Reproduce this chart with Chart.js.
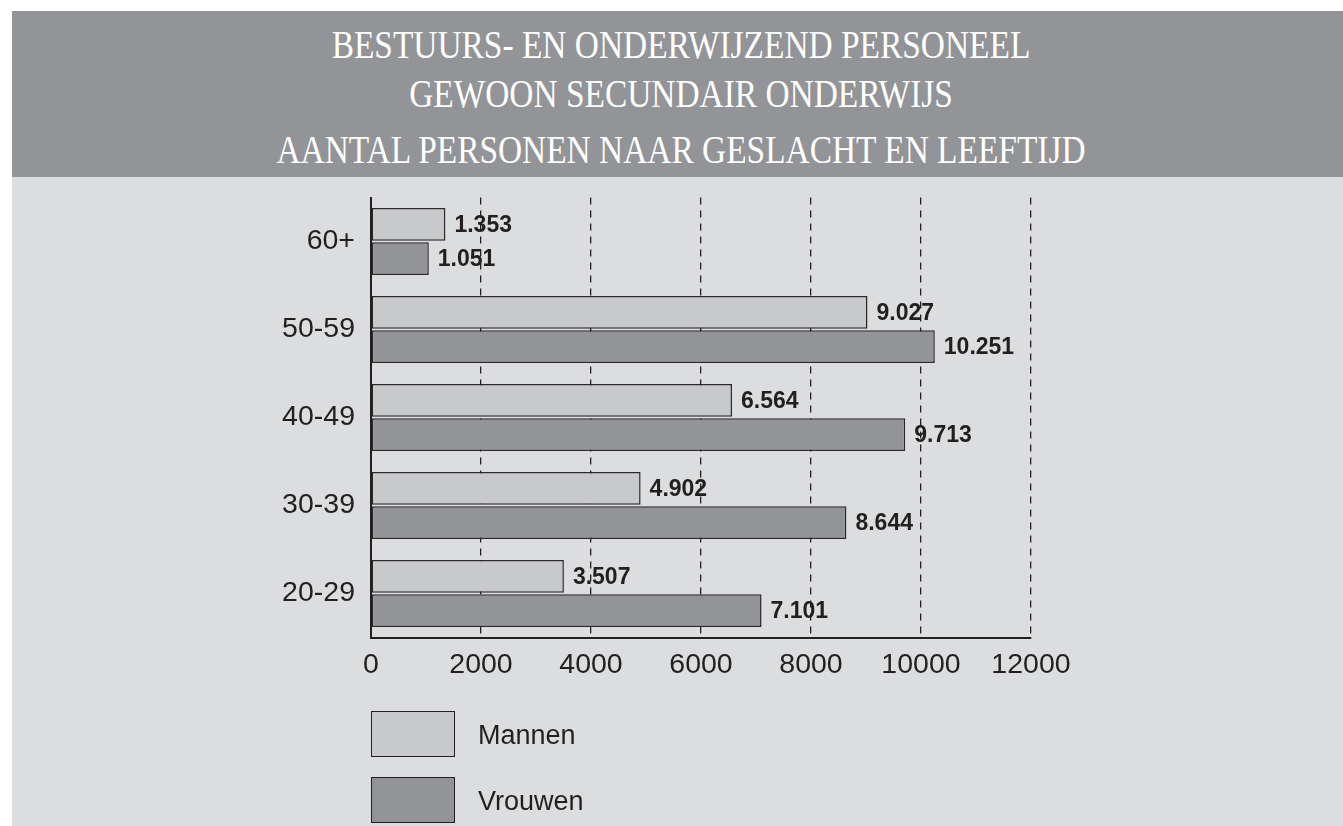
<!DOCTYPE html>
<html lang="nl">
  <head>
    <meta charset="UTF-8" />
    <title>Bestuurs- en onderwijzend personeel</title>
    <script src="https://cdn.jsdelivr.net/npm/chart.js"></script>
    <style>
      html, body { margin: 0; padding: 0; background: #ffffff; overflow: hidden; }
      #page { position: absolute; left: 12px; top: 11px; width: 1331px; height: 815px; background: #dcdddf; }
      #header { position: absolute; left: 0; top: 0; width: 1331px; height: 166px; background: #929497; }
      .tline {
        position: absolute; left: -12px; width: 1362px; text-align: center;
        font-family: "Liberation Serif", "DejaVu Serif", serif; font-size: 40px; line-height: 40px;
        color: #ffffff; transform: scaleX(0.835); transform-origin: 50% 50%; white-space: nowrap;
      }
      #chartBox { position: absolute; left: 0; top: 166px; width: 1331px; height: 649px; }
      #legend { position: absolute; left: 359px; top: 700px; font-family: "Liberation Sans", Arial, sans-serif; }
      .leg { position: absolute; left: 0; height: 46px; width: 300px; }
      .leg .box { position: absolute; left: 0; top: 0; width: 84px; height: 46px; box-sizing: border-box; border: 1.5px solid #231f20; }
      .leg .txt { position: absolute; left: 107px; top: 7px; font-size: 27px; line-height: 34px; color: #231f20; }
    </style>
  </head>
  <body>
    <div id="page">
      <div id="header">
        <div class="tline" style="top: 14px">BESTUURS- EN ONDERWIJZEND PERSONEEL</div>
        <div class="tline" style="top: 63px">GEWOON SECUNDAIR ONDERWIJS</div>
        <div class="tline" style="top: 119px">AANTAL PERSONEN NAAR GESLACHT EN LEEFTIJD</div>
      </div>
      <div id="chartBox"><canvas id="myChart" width="1331" height="649"></canvas></div>
      <div id="legend"></div>
    </div>

    <script>
      var ageGroups = ["60+", "50-59", "40-49", "30-39", "20-29"];
      var mannen = [1353, 9027, 6564, 4902, 3507];
      var vrouwen = [1051, 10251, 9713, 8644, 7101];
      var xTicks = [0, 2000, 4000, 6000, 8000, 10000, 12000];

      var ink = "#231f20";

      function dotted(n) {
        return String(n).replace(/\B(?=(\d{3})+(?!\d))/g, ".");
      }

      var valueLabels = {
        id: "valueLabels",
        afterDatasetsDraw: function (chart) {
          var ctx = chart.ctx;
          ctx.save();
          ctx.font = "bold 23px 'Liberation Sans', Arial, sans-serif";
          ctx.fillStyle = ink;
          ctx.textAlign = "left";
          ctx.textBaseline = "middle";
          chart.data.datasets.forEach(function (ds, i) {
            chart.getDatasetMeta(i).data.forEach(function (bar, j) {
              ctx.fillText(dotted(ds.data[j]), bar.x + 9, bar.y + 1);
            });
          });
          ctx.restore();
        },
      };

      var ctx = document.getElementById("myChart").getContext("2d");
      var myChart = new Chart(ctx, {
        type: "bar",
        data: {
          labels: ageGroups,
          datasets: [
            {
              label: "Mannen",
              data: mannen,
              backgroundColor: "#c8c9cb",
              borderColor: "#2b2829",
              borderWidth: 1.5,
              borderSkipped: false,
            },
            {
              label: "Vrouwen",
              data: vrouwen,
              backgroundColor: "#929497",
              borderColor: "#2b2829",
              borderWidth: 1.5,
              borderSkipped: false,
            },
          ],
        },
        options: {
          indexAxis: "y",
          responsive: false,
          animation: false,
          events: [],
          categoryPercentage: 0.78,
          barPercentage: 0.95,
          layout: { padding: { left: 0, right: 312, top: 20.5, bottom: 128.5 } },
          plugins: {
            legend: { display: false },
            tooltip: { enabled: false },
          },
          scales: {
            x: {
              min: 0,
              max: 12000,
              afterBuildTicks: function (scale) {
                scale.ticks = xTicks.map(function (v) { return { value: v }; });
              },
              afterFit: function (scale) {
                scale.height = 60;
                scale.paddingLeft = 0;
                scale.paddingRight = 0;
              },
              grid: {
                color: ink,
                lineWidth: 1.3,
                drawTicks: false,
              },
              border: { display: true, color: ink, width: 2, dash: [7, 6] },
              ticks: {
                padding: 11,
                color: ink,
                font: { family: "'Liberation Sans', Arial, sans-serif", size: 28.5 },
                callback: function (v) { return String(v); },
              },
            },
            y: {
              afterFit: function (scale) {
                scale.width = 359;
                scale.paddingTop = 0;
                scale.paddingBottom = 0;
              },
              grid: { display: false, drawTicks: false },
              border: { display: true, color: ink, width: 2 },
              ticks: {
                padding: 16,
                color: ink,
                font: { family: "'Liberation Sans', Arial, sans-serif", size: 28.5 },
              },
            },
          },
        },
        plugins: [valueLabels],
      });

      // legend built from the datasets
      var legend = document.getElementById("legend");
      myChart.data.datasets.forEach(function (ds, i) {
        var row = document.createElement("div");
        row.className = "leg";
        row.style.top = i * 66 + "px";
        row.innerHTML = '<div class="box" style="background:' + ds.backgroundColor + '"></div>' +
          '<div class="txt">' + ds.label + "</div>";
        legend.appendChild(row);
      });
    </script>
  </body>
</html>
